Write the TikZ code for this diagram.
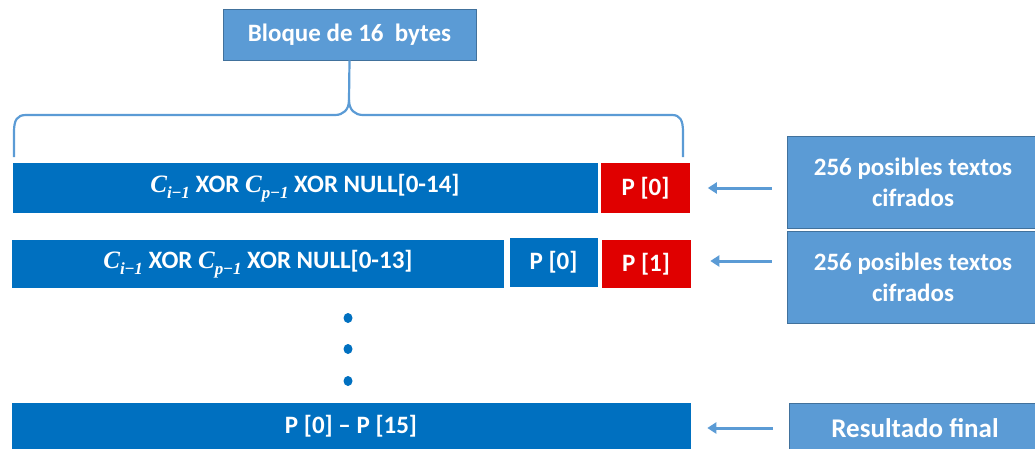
\documentclass[tikz,border=0pt]{standalone}
\usepackage{fontspec}
\setmainfont{Carlito}
\newfontfamily\mathserif{Liberation Serif}
\usetikzlibrary{arrows.meta,shapes.geometric}
\definecolor{barblue}{HTML}{0070C0}
\definecolor{barred}{HTML}{E00000}
\definecolor{lightblue}{HTML}{5B9BD5}
\definecolor{edgeblue}{HTML}{41719C}
\newcommand{\Cvar}[1]{{\mathserif\bfseries\itshape C}\raisebox{-0.45ex}{\fontsize{17}{17}\selectfont\mathserif\bfseries\itshape #1{\upshape\char"2212}1}}
\tikzset{
  bar/.style={rectangle, fill=barblue, draw=white, line width=0.6pt, text=white,
    font=\fontsize{25}{27}\selectfont\bfseries, inner sep=0pt},
  redbox/.style={bar, fill=barred},
  infobox/.style={rectangle, fill=lightblue, draw=edgeblue, line width=0.8pt, text=white,
    font=\fontsize{25}{31}\selectfont\bfseries, inner sep=0pt, align=center},
  feed/.style={draw=lightblue, line width=3pt, -{Triangle[length=9pt,width=11pt]}},
  bracket/.style={draw=lightblue, line width=2.2pt, line join=round},
  dot/.style={ellipse, fill=barblue, minimum width=9pt, minimum height=10pt, inner sep=0pt}
}
\begin{document}
\begin{tikzpicture}[x=1pt,y=-1pt]
\useasboundingbox (0,0) rectangle (1035,448);

% header block and its brace
\node[infobox, minimum width=253pt, minimum height=51pt] (head) at (349.5,34.5) {Bloque de 16\ \ bytes};
\path[bracket] (head.south) -- (349,100)
  .. controls (349,110) and (343,115) .. (335,115) -- (26,115)
  .. controls (17,115) and (14,120) .. (14,132) -- (14,157);
\path[bracket] (349,100)
  .. controls (349,110) and (355,115) .. (363,115) -- (672,115)
  .. controls (680,115) and (683,120) .. (683,132) -- (683,157);

% first round
\node[bar, minimum width=586pt, minimum height=51pt] (row1) at (305,188)
  {\Cvar{i} XOR \Cvar{p} XOR NULL[0-14]};
\node[redbox, minimum width=90pt, minimum height=51pt] (red1) at (645.5,188) {P [0]};

% second round
\node[bar, minimum width=493pt, minimum height=49pt] (row2) at (258,264)
  {\Cvar{i} XOR \Cvar{p} XOR NULL[0-13]};
\node[bar, minimum width=89pt, minimum height=50pt] (known0) at (553.5,262) {P [0]};
\node[redbox, minimum width=90pt, minimum height=49pt] (red2) at (646,264) {P [1]};

% omitted rounds
\node[dot] (d1) at (348,318) {};
\node[dot] (d2) at (348,349) {};
\node[dot] (d3) at (348,381) {};

% final result
\node[bar, minimum width=680pt, minimum height=48pt] (final) at (351,426) {P [0] -- P [15]};

% right-hand boxes
\node[infobox, minimum width=252pt, minimum height=92pt] (cand1) at (913,182.5) {256 posibles textos\\cifrados};
\node[infobox, minimum width=252pt, minimum height=92pt] (cand2) at (913,277) {256 posibles textos\\cifrados};
\node[infobox, minimum width=252pt, minimum height=50pt, font=\fontsize{27}{30}\selectfont\bfseries] (res) at (915,428) {Resultado final};

% connectors
\draw[feed, shorten <=15pt, shorten >=17pt] (red1.east -| cand1.west) -- (red1.east);
\draw[feed, shorten <=15pt, shorten >=19pt] ([yshift=3pt]red2.east -| cand2.west) -- ([yshift=3pt]red2.east);
\draw[feed, shorten <=16pt, shorten >=16pt] (res.west) -- (res.west -| final.east);
\end{tikzpicture}
\end{document}
